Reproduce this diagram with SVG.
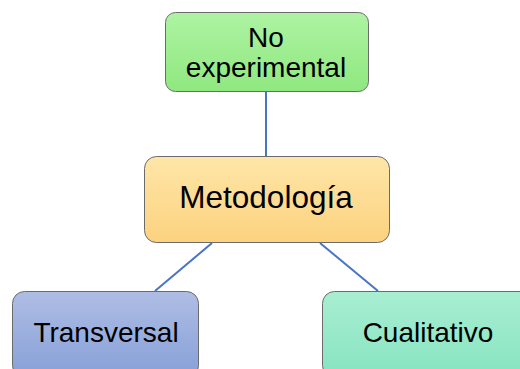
<svg xmlns="http://www.w3.org/2000/svg" width="520" height="369" viewBox="0 0 520 369">
<defs>
<linearGradient id="gGreen" x1="0" y1="0" x2="0" y2="1"><stop offset="0" stop-color="#aef3a3"/><stop offset="1" stop-color="#8fe87f"/></linearGradient>
<linearGradient id="gOrange" x1="0" y1="0" x2="0" y2="1"><stop offset="0" stop-color="#fee6a8"/><stop offset="1" stop-color="#fcd27f"/></linearGradient>
<linearGradient id="gBlue" x1="0" y1="0" x2="0" y2="1"><stop offset="0" stop-color="#aebde4"/><stop offset="1" stop-color="#87a0d8"/></linearGradient>
<linearGradient id="gTeal" x1="0" y1="0" x2="0" y2="1"><stop offset="0" stop-color="#a9eed2"/><stop offset="1" stop-color="#86e4c0"/></linearGradient>
</defs>
<style>
.box{stroke:#6b6b6b;stroke-width:1}
.lbl{font-family:"Liberation Sans",Arial,sans-serif;font-size:28px;fill:#000;text-anchor:middle}
.conn{stroke:#4a74c4;stroke-width:2;fill:none}
</style>
<rect width="520" height="369" fill="#ffffff"/>
<g id="connectors">
<line class="conn" x1="266" y1="92" x2="266" y2="156"/>
<line class="conn" x1="212" y1="243" x2="155" y2="291"/>
<line class="conn" x1="320" y1="243" x2="378" y2="291"/>
</g>
<g id="node-noexp">
<rect class="box" x="165.5" y="12.5" width="203" height="79" rx="10" fill="url(#gGreen)"/>
<text class="lbl" x="266" y="47">No</text>
<text class="lbl" x="266" y="77">experimental</text>
</g>
<g id="node-metodologia">
<rect class="box" x="144.5" y="156.5" width="245" height="86" rx="12" fill="url(#gOrange)"/>
<text class="lbl" x="266" y="208" style="font-size:31.5px">Metodología</text>
</g>
<g id="node-transversal">
<rect class="box" x="12.5" y="291.5" width="186" height="86" rx="12" fill="url(#gBlue)"/>
<text class="lbl" x="106" y="342">Transversal</text>
</g>
<g id="node-cualitativo">
<rect class="box" x="322.5" y="291.5" width="212" height="86" rx="12" fill="url(#gTeal)"/>
<text class="lbl" x="428" y="342">Cualitativo</text>
</g>
</svg>
